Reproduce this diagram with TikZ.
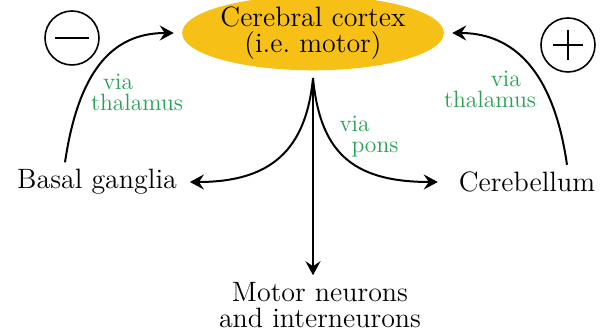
\documentclass[tikz,border=0pt]{standalone}
\usepackage{xcolor}
\usepackage{tikz}
\usetikzlibrary{arrows.meta,shapes.geometric}

\definecolor{cortexfill}{RGB}{247,192,22}
\definecolor{viagreen}{RGB}{40,160,85}

\begin{document}
\begin{tikzpicture}[
    x=0.5pt, y=-0.5pt,
    area/.style={font=\fontsize{14}{13}\selectfont, align=center},
    cortexnode/.style={ellipse, fill=cortexfill, minimum width=120pt, minimum height=31pt, inner sep=0pt, font=\fontsize{14}{13}\selectfont, align=center},
    pathlabel/.style={font=\fontsize{11.8}{10.5}\selectfont, text=viagreen},
    signnode/.style={circle, draw, line width=0.8pt, minimum size=27pt, inner sep=0pt},
    edge/.style={line width=1pt, -{Stealth[length=7pt, width=7.5pt, inset=2.5pt]}},
  ]
  \useasboundingbox (0,0) rectangle (602,330);

  % Cortex
  \node[cortexnode] (cortex) at (313,33) {Cerebral cortex\\(i.e.\ motor)};
  \coordinate (split) at (313,78);

  % Targets
  \node[area] (bg) at (97,182) {Basal ganglia};
  \node[area] (cb) at (527,182) {Cerebellum};
  \node[area] (motor) at (320,305) {Motor neurons\\and interneurons};

  % Signs
  \node[signnode] (minus) at (72,38) {};
  \node[signnode] (plus) at (568,45) {};
  \draw[line width=1pt] ([xshift=-8.5pt]minus.center) -- ([xshift=8.5pt]minus.center);
  \draw[line width=1pt] ([xshift=-7.5pt]plus.center) -- ([xshift=7.5pt]plus.center);
  \draw[line width=1pt] ([yshift=-7.5pt]plus.center) -- ([yshift=7.5pt]plus.center);

  % Edges
  \draw[edge] ([xshift=-16pt]bg.north) .. controls (80,60) and (120,33) .. ([xshift=-4pt]cortex.west);
  \draw[edge] ([xshift=20pt]cb.north) .. controls (552,60) and (505,33) .. ([xshift=4pt]cortex.east);
  \draw[edge, shorten >=3pt] (split) .. controls (306,150) and (271,182) .. (bg);
  \draw[edge, shorten >=7pt] (split) .. controls (320,150) and (350,182) .. (cb);
  \draw[edge] (split) -- (split |- motor.north);

  % Labels
  \node[pathlabel, align=left] (lvia) at (137,92) {\hspace*{6pt}via\\thalamus};
  \node[pathlabel, align=right] (rvia) at (490,89) {via\hspace*{7.5pt}\\thalamus};
  \node[pathlabel, align=left] (pvia) at (369,137) {via\\\hspace*{6pt}pons};
\end{tikzpicture}
\end{document}
